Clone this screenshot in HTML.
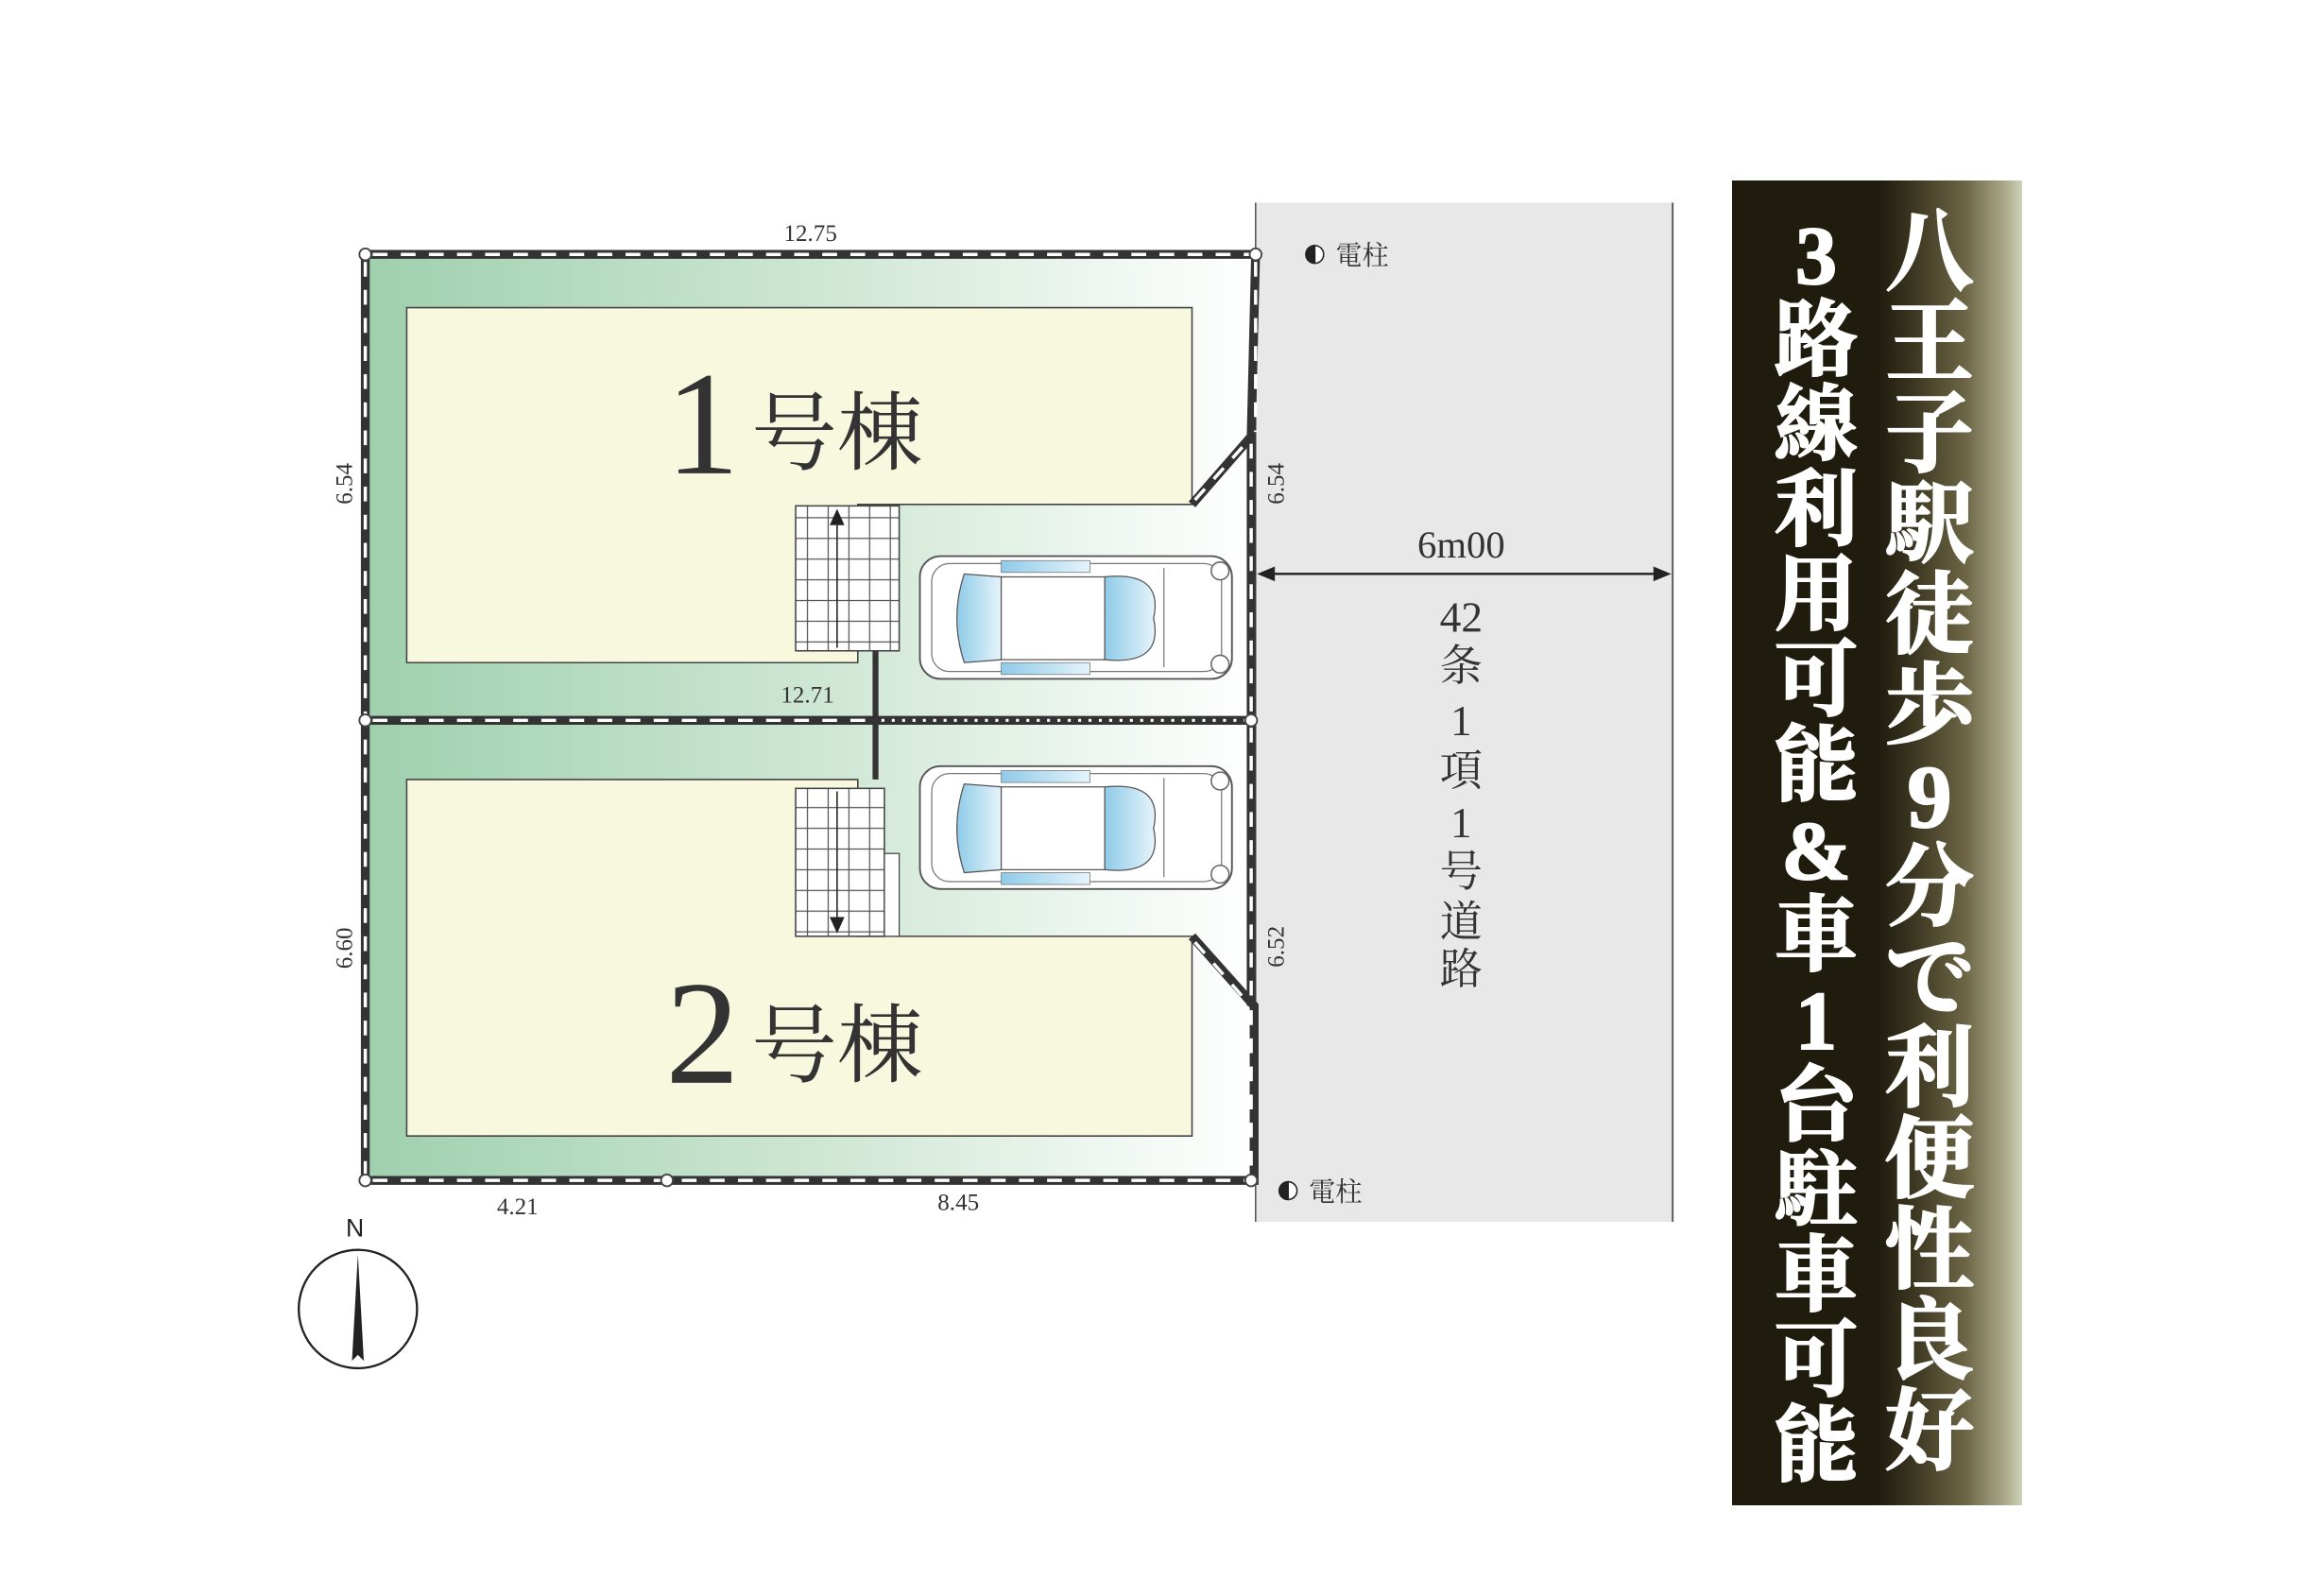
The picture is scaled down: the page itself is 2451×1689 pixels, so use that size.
<!DOCTYPE html>
<html><head><meta charset="utf-8">
<style>
html,body{margin:0;padding:0;background:#fff;}
#wrap{position:relative;width:2451px;height:1689px;overflow:hidden;background:#fff;}
svg{position:absolute;left:0;top:0;}
.banner{position:absolute;left:1833px;top:191px;width:307px;height:1402px;
background:linear-gradient(to right,#1f1b0d 0%,#1f1b0d 50%,#3a3520 62%,#6b6444 80%,#a9a98a 94%,#cfd3b8 100%);}
.col{position:absolute;display:flex;flex-direction:column;color:#fff;-webkit-text-stroke:2px #fff;
font-family:"Liberation Serif","Noto Serif CJK SC",serif;font-weight:bold;}
.col span{display:block;text-align:center;}
</style></head><body><div id="wrap">
<svg width="2451" height="1689" viewBox="0 0 1566 1079" preserveAspectRatio="none">
<defs>
<linearGradient id="g" x1="0" x2="1" y1="0" y2="0">
<stop offset="0" stop-color="#9fd0ad"/><stop offset="0.5" stop-color="#cde6d3"/><stop offset="1" stop-color="#ffffff"/>
</linearGradient>
<linearGradient id="gl" x1="0" x2="1"><stop offset="0" stop-color="#8fcbe8"/><stop offset="1" stop-color="#e6f4fb"/></linearGradient>
<g id="car">
<rect x="0" y="0" width="211" height="83" rx="14" fill="#fff" stroke="#555" stroke-width="1.2"/>
<rect x="8" y="5" width="196" height="73" rx="12" fill="none" stroke="#777" stroke-width="0.8"/>
<path d="M30 12 Q20 42 30 72 L55 70 L55 14 Z" fill="url(#gl)" stroke="#555" stroke-width="0.8"/>
<path d="M55 14 L125 14 L125 70 L55 70 Z" fill="#fff" stroke="#555" stroke-width="0.8"/>
<path d="M125 14 Q165 10 158 42 Q165 74 125 70 Z" fill="url(#gl)" stroke="#555" stroke-width="0.8"/>
<rect x="55" y="3" width="60" height="8" fill="url(#gl)" stroke="#777" stroke-width="0.5"/>
<rect x="55" y="72" width="60" height="8" fill="url(#gl)" stroke="#777" stroke-width="0.5"/>
<line x1="165" y1="8" x2="165" y2="75" stroke="#777" stroke-width="0.8"/>
<circle cx="203" cy="10" r="6" fill="#fff" stroke="#666"/><circle cx="203" cy="73" r="6" fill="#fff" stroke="#666"/>
</g>
<pattern id="grid" width="14" height="14" patternUnits="userSpaceOnUse">
<rect width="14" height="14" fill="#fff" stroke="#555" stroke-width="0.8"/></pattern>
</defs>
<rect x="849" y="137" width="282" height="689" fill="#e8e8e8"/>
<line x1="1131" y1="137" x2="1131" y2="826" stroke="#555" stroke-width="1.2"/>
<line x1="849" y1="137" x2="849" y2="826" stroke="#555" stroke-width="1"/>
<rect x="249" y="174" width="597" height="312" fill="url(#g)"/>
<rect x="249" y="489" width="597" height="308" fill="url(#g)"/>
<path d="M275 208 H806 V341 H580 V448 H275 Z" fill="#f8f8df" stroke="#444" stroke-width="1"/>
<rect x="538" y="342" width="70" height="98" fill="url(#grid)" stroke="#444"/>
<polygon points="566,344 561,355 571,355" fill="#222"/><line x1="566" y1="355" x2="566" y2="438" stroke="#222"/>
<path d="M275 527 H580 V633 H806 V768 H275 Z" fill="#f8f8df" stroke="#444" stroke-width="1"/>
<rect x="538" y="533" width="60" height="100" fill="url(#grid)" stroke="#444"/>
<rect x="598" y="577" width="10" height="56" fill="#fff" stroke="#444" stroke-width="0.8"/>
<polygon points="566,631 561,620 571,620" fill="#222"/><line x1="566" y1="535" x2="566" y2="620" stroke="#222"/>
<use href="#car" x="622" y="376"/>
<use href="#car" x="622" y="518"/>
<g fill="none" stroke="#333" stroke-width="6">
<path d="M247 172 H849 L846 295 L806 341"/>
<path d="M247 172 V798 H848 V680 L806 633"/>
<path d="M247 487 H846"/>
<line x1="846" y1="295" x2="846" y2="680"/>
<line x1="592" y1="440" x2="592" y2="527" stroke-width="4"/>
</g>
<g fill="none" stroke="#fff" stroke-width="2.2" stroke-dasharray="10 9">
<path d="M252 172 H845"/><path d="M247 177 V795"/><path d="M252 798 H845"/>
<path d="M252 487 H590"/><path d="M849 177 V292"/><path d="M846 683 V795"/>
<path d="M846 300 V482"/><path d="M846 492 V676"/>
<path d="M808 338 L843 299"/><path d="M808 637 L843 677"/>
</g>
<path d="M596 487 H844" stroke="#fff" stroke-width="2" stroke-dasharray="2 5" fill="none"/>
<g fill="#fff" stroke="#444" stroke-width="1.2">
<circle cx="247" cy="172" r="4"/><circle cx="849" cy="172" r="4"/><circle cx="247" cy="487" r="4"/>
<circle cx="846" cy="487" r="4"/><circle cx="247" cy="798" r="4"/><circle cx="451" cy="798" r="4"/><circle cx="846" cy="798" r="4"/>
</g>
<g font-family="Liberation Serif, serif" fill="#333" font-size="16">
<text x="548" y="163" text-anchor="middle">12.75</text>
<text x="546" y="475" text-anchor="middle">12.71</text>
<text x="350" y="821" text-anchor="middle">4.21</text>
<text x="648" y="818" text-anchor="middle">8.45</text>
<text transform="translate(238,327) rotate(-90)" text-anchor="middle">6.54</text>
<text transform="translate(238,641) rotate(-90)" text-anchor="middle">6.60</text>
<text transform="translate(868,327) rotate(-90)" text-anchor="middle">6.54</text>
<text transform="translate(868,640) rotate(-90)" text-anchor="middle">6.52</text>
</g>
<g font-family="Liberation Serif, Noto Serif CJK SC, serif" fill="#333">
<text x="475" y="320" font-size="100" text-anchor="middle">1</text>
<text x="508" y="313" font-size="58">号棟</text>
<text x="475" y="732" font-size="100" text-anchor="middle">2</text>
<text x="508" y="727" font-size="58">号棟</text>
<text x="988" y="377" font-size="26" text-anchor="middle">6m00</text>
<text x="988" y="427" font-size="29" text-anchor="middle">42</text>
<text x="988" y="460" font-size="29" text-anchor="middle">条</text>
<text x="988" y="497" font-size="29" text-anchor="middle">1</text>
<text x="988" y="531" font-size="29" text-anchor="middle">項</text>
<text x="988" y="566" font-size="29" text-anchor="middle">1</text>
<text x="988" y="599" font-size="29" text-anchor="middle">号</text>
<text x="988" y="633" font-size="29" text-anchor="middle">道</text>
<text x="988" y="665" font-size="29" text-anchor="middle">路</text>
<text x="903" y="179" font-size="18">電柱</text>
<text x="885" y="812" font-size="18">電柱</text>
</g>
<g stroke="#222" stroke-width="1"><circle cx="889" cy="172" r="6" fill="#fff"/><path d="M889 166 A6 6 0 0 0 889 178 Z" fill="#222"/>
<circle cx="871" cy="805" r="6" fill="#fff"/><path d="M871 799 A6 6 0 0 0 871 811 Z" fill="#222"/></g>
<line x1="852" y1="388" x2="1128" y2="388" stroke="#222" stroke-width="1.5"/>
<polygon points="850,388 862,383 862,393" fill="#222"/><polygon points="1130,388 1118,383 1118,393" fill="#222"/>
<circle cx="242" cy="885" r="40" fill="#fff" stroke="#222" stroke-width="1.5"/>
<polygon points="242,848 238,920 242,916 246,920" fill="#222"/>
<text x="240" y="836" font-family="Liberation Sans, sans-serif" font-size="17" text-anchor="middle" fill="#222">N</text>
</svg>
<div class="banner"></div>
<div class="col" style="left:1990px;top:220px;width:104px;font-size:94px;line-height:96px;">
<span>八</span><span>王</span><span>子</span><span>駅</span><span>徒</span><span>歩</span><span>9</span><span>分</span><span>で</span><span>利</span><span>便</span><span>性</span><span>良</span><span>好</span></div>
<div class="col" style="left:1872px;top:227px;width:100px;font-size:88px;line-height:90px;">
<span>3</span><span>路</span><span>線</span><span>利</span><span>用</span><span>可</span><span>能</span><span>&amp;</span><span>車</span><span>1</span><span>台</span><span>駐</span><span>車</span><span>可</span><span>能</span></div>
</div></body></html>
